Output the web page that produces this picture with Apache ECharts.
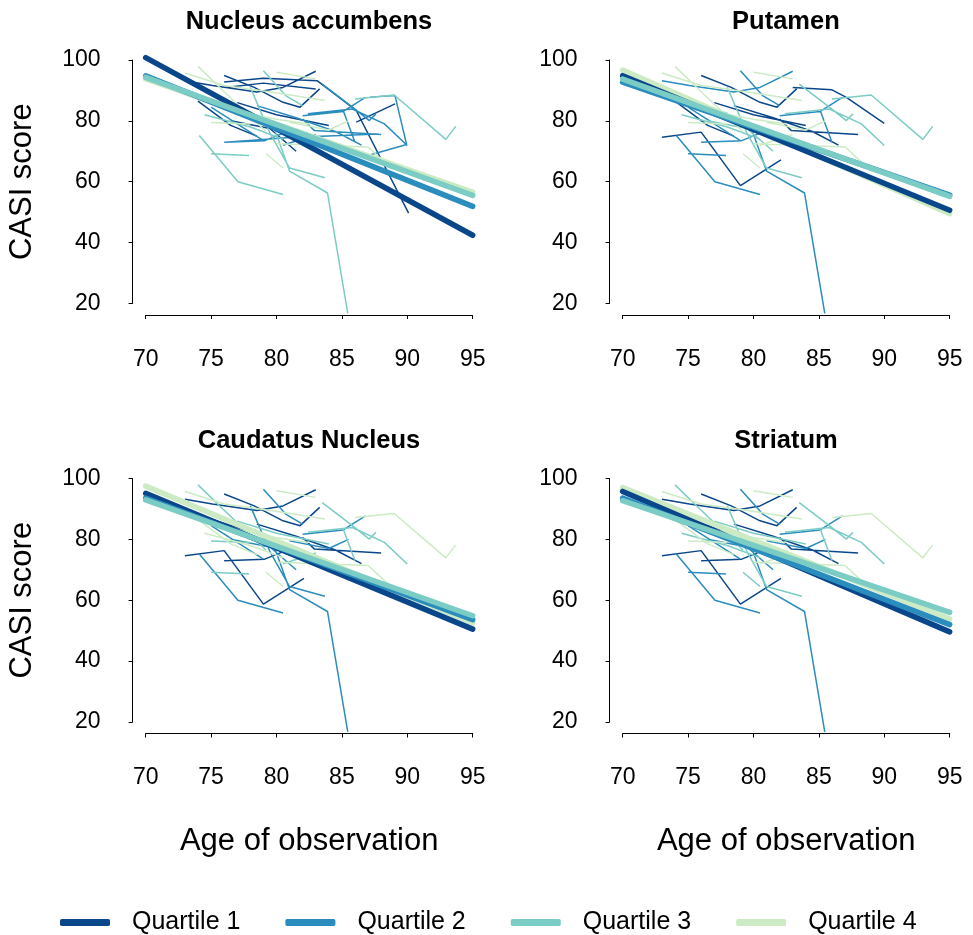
<!DOCTYPE html>
<html>
<head>
<meta charset="utf-8">
<script src="https://cdn.jsdelivr.net/npm/echarts@6/dist/echarts.min.js"></script>
<style>html,body{margin:0;padding:0;background:#fff}#c{width:973px;height:935px}</style>
</head>
<body>
<div id="c"></div>
<script>
// ---------- DATA ----------
const panelTitles = ['Nucleus accumbens', 'Putamen', 'Caudatus Nucleus', 'Striatum'];
const quartileNames = ['Quartile 1', 'Quartile 2', 'Quartile 3', 'Quartile 4'];
const quartileColors = ['#0a468a', '#2b8cbe', '#7bccc4', '#ccebc5'];
const xTicks = [70, 75, 80, 85, 90, 95];
const yTicks = [20, 40, 60, 80, 100];

// individual trajectories: [age, CASI score]
const subj01 = [[74.0, 97.9], [75.9, 90.0], [79.2, 76.5]];
const subj02 = [[73.0, 95.7], [76.0, 91.6], [79.7, 89.4], [83.7, 86.7]];
const subj03 = [[76.0, 94.9], [78.3, 91.0], [80.5, 86.1], [81.8, 84.5], [83.3, 90.5]];
const subj04 = [[79.0, 96.5], [80.7, 88.3], [82.0, 85.0]];
const subj05 = [[73.0, 93.2], [75.1, 91.6], [78.5, 89.5], [80.5, 91.0], [83.0, 96.3]];
const subj06 = [[80.0, 96.0], [83.0, 93.8]];
const subj07 = [[78.0, 91.0], [79.5, 76.0], [81.0, 64.5], [83.7, 61.3]];
const subj08 = [[79.8, 78.0], [81.0, 63.5], [83.9, 56.3], [85.45, 16.7]];
const subj09 = [[73.0, 74.6], [76.0, 76.3], [79.0, 58.7], [82.1, 67.2]];
const subj10 = [[74.1, 75.2], [77.05, 60.0], [80.5, 55.8]];
const subj11 = [[75.0, 69.2], [77.9, 68.6]];
const subj12 = [[86.0, 87.2], [89.0, 88.5], [92.95, 73.9], [93.7, 78.2]];
const subj13 = [[83.0, 91.0], [86.0, 90.2], [87.1, 87.7], [90.0, 79.2]];
const subj14 = [[82.0, 80.6], [82.9, 76.8], [88.0, 75.5]];
const subj15 = [[82.0, 81.7], [85.1, 83.1], [86.8, 87.7]];
const subj16 = [[83.5, 92.1], [85.8, 84.5], [87.1, 80.1], [87.6, 82.3]];
const subj17 = [[82.4, 82.3], [85.8, 83.9], [88.25, 79.0], [90.0, 71.9]];
const subj18 = [[80.0, 72.5], [87.0, 71.4], [88.8, 64.3]];
const subj19 = [[85.1, 83.4], [86.0, 73.0]];
const subj20 = [[76.0, 73.0], [79.1, 73.5], [81.0, 76.8]];
const subj21 = [[75.0, 79.5], [78.0, 79.0]];
const subj22 = [[75.0, 84.5], [79.0, 73.5]];
const subj23 = [[79.2, 69.2], [80.5, 64.5]];
const subj24 = [[72.0, 91.0], [75.5, 86.0], [78.0, 82.5]];
const subj25 = [[73.5, 88.5], [77.0, 83.0], [80.0, 80.5], [82.5, 79.0]];
const subj26 = [[77.0, 86.0], [80.0, 82.0], [84.0, 78.5]];
const subj27 = [[76.5, 80.0], [79.5, 77.5], [81.5, 70.0]];
const subj28 = [[78.5, 85.0], [81.5, 81.0], [84.5, 76.5], [86.5, 72.0]];
const subj29 = [[74.5, 82.0], [78.0, 78.0], [80.5, 74.0]];
const subj30 = [[81.0, 79.5], [84.0, 77.0], [85.5, 80.0]];
const subj31 = [[80.5, 72.0], [83.0, 75.5]];
const subj32 = [[74.0, 86.5], [76.5, 78.5], [78.5, 75.0]];
const subj33 = [[76.0, 92.8], [79.0, 94.0], [83.1, 93.2], [86.1, 83.4], [90.1, 49.7]];
const subj34 = [[87.15, 87.8], [89.06, 88.3], [89.95, 72.2], [87.0, 68.6]];
const subj35 = [[76.1, 73.0], [81.0, 74.5], [87.8, 75.7]];
const subj36 = [[86.1, 79.6], [89.06, 85.6]];
const subj37 = [[76.1, 91.0], [79.0, 92.4], [83.0, 90.5]];

// quartile of each subject in each panel (0 = not drawn in that panel)
const quartNA  = [4,4,1,3,1,4,3,3,0,3,3,3,0,2,2,2,2,4,2,2,4,2,4,3,4,1,1,2,3,4,2,1,1,2,2,1,1];
const quartPut = [4,4,1,2,2,4,3,2,1,2,2,3,1,1,2,3,3,4,2,2,4,2,4,3,4,1,3,1,3,4,4,1,0,0,0,0,0];
const quartCau = [3,4,1,2,1,4,2,2,1,2,3,4,0,1,2,3,3,4,3,1,3,2,4,1,4,3,2,1,4,2,3,4,0,0,0,0,0];
const quartStr = [3,4,1,2,1,4,3,2,1,2,2,4,0,1,2,3,3,4,3,1,4,2,3,1,4,3,2,1,3,2,4,4,0,0,0,0,0];

// fitted regression lines: score at age 70 and at age 95, per quartile
const fitAges = [70, 95];
const fitNA  = [[100.8, 42.4], [94.8, 51.9], [94.3, 55.5], [93.8, 56.6]];
const fitPut = [[94.85, 50.6], [92.7, 55.6], [93.7, 55.2], [96.7, 49.5]];
const fitCau = [[95.1, 50.5], [93.6, 53.6], [93.0, 54.9], [97.5, 52.5]];
const fitStr = [[95.75, 49.6], [93.6, 52.0], [92.7, 56.0], [97.0, 53.8]];

// ---------- BUILD ----------
const subjects = [subj01,subj02,subj03,subj04,subj05,subj06,subj07,subj08,subj09,subj10,
  subj11,subj12,subj13,subj14,subj15,subj16,subj17,subj18,subj19,subj20,subj21,subj22,
  subj23,subj24,subj25,subj26,subj27,subj28,subj29,subj30,subj31,subj32,subj33,subj34,
  subj35,subj36,subj37];
const quarts = [quartNA, quartPut, quartCau, quartStr];
const fits = [fitNA, fitPut, fitCau, fitStr];
const fitDrawOrder = [3, 0, 1, 2];

const FONT = 'Liberation Sans, Arial, Helvetica, sans-serif';
const pxYear = 13.08, pxUnit = 3.043;
const panelPos = [
  {L: 132.6, T: 60},
  {L: 609.6, T: 60},
  {L: 132.6, T: 478.5},
  {L: 609.6, T: 478.5}
];

const grid = [], xAxis = [], yAxis = [], series = [], title = [];

panelPos.forEach((p, pi) => {
  const isLeft = pi % 2 === 0, isBottom = pi >= 2;
  // data grid (x 69..96 like R's extended range)
  const gData = grid.length;
  grid.push({left: p.L, top: p.T - 3.8 * pxUnit, width: 27 * pxYear, height: 87.6 * pxUnit});
  xAxis.push({gridIndex: gData, type: 'value', min: 69, max: 96, show: false});
  yAxis.push({gridIndex: gData, type: 'value', min: 16.2, max: 103.8, show: false});

  // x display axis (70..95)
  const gX = grid.length;
  grid.push({left: p.L + pxYear, top: p.T + 245, width: 25 * pxYear, height: 10});
  xAxis.push({
    gridIndex: gX, type: 'value', min: xTicks[0], max: xTicks[xTicks.length - 1], interval: 5,
    position: 'bottom',
    axisLine: {onZero: false, lineStyle: {color: '#000', width: 1}},
    axisTick: {length: 4, lineStyle: {color: '#000', width: 1}},
    axisLabel: {color: '#000', fontSize: 23, fontFamily: FONT, margin: 33},
    splitLine: {show: false},
    name: isBottom ? 'Age of observation' : '',
    nameLocation: 'middle', nameGap: 92,
    nameTextStyle: {color: '#000', fontSize: 31, fontFamily: FONT}
  });
  yAxis.push({gridIndex: gX, type: 'value', min: 0, max: 1, show: false});

  // y display axis (20..100)
  const gY = grid.length;
  grid.push({left: p.L, top: p.T, width: 10, height: 80 * pxUnit});
  yAxis.push({
    gridIndex: gY, type: 'value', min: yTicks[0], max: yTicks[yTicks.length - 1], interval: 20,
    position: 'left',
    axisLine: {onZero: false, lineStyle: {color: '#000', width: 1}},
    axisTick: {length: 4, lineStyle: {color: '#000', width: 1}},
    axisLabel: {color: '#000', fontSize: 23, fontFamily: FONT, margin: 32},
    splitLine: {show: false},
    name: isLeft ? 'CASI score' : '',
    nameLocation: 'middle', nameGap: 95,
    nameTextStyle: {color: '#000', fontSize: 31, fontFamily: FONT}
  });
  xAxis.push({gridIndex: gY, type: 'value', min: 0, max: 1, show: false});

  // thin trajectories, one series per quartile with breaks
  for (let q = 1; q <= 4; q++) {
    const data = [];
    subjects.forEach((s, i) => {
      if (quarts[pi][i] === q) {
        s.forEach(pt => data.push(pt));
        data.push(['-', '-']);
      }
    });
    series.push({
      type: 'line', name: 'traj' + pi + '_' + q, xAxisIndex: gData, yAxisIndex: gData,
      data: data, showSymbol: false, symbol: 'none', connectNulls: false,
      color: quartileColors[q - 1],
      lineStyle: {color: quartileColors[q - 1], width: 1.5},
      z: 2, silent: true, animation: false
    });
  }
  // thick fitted lines
  fitDrawOrder.forEach((q) => {
    series.push({
      type: 'line', name: quartileNames[q], xAxisIndex: gData, yAxisIndex: gData,
      data: [[fitAges[0], fits[pi][q][0]], [fitAges[1], fits[pi][q][1]]],
      showSymbol: false, symbol: 'none',
      color: quartileColors[q],
      lineStyle: {color: quartileColors[q], width: 5.5, cap: 'round'},
      z: 3, silent: true, animation: false
    });
  });

  title.push({
    text: panelTitles[pi],
    left: p.L + 13.1 * pxYear, top: p.T - 56,
    textAlign: 'center',
    textStyle: {fontSize: 25.5, fontWeight: 'bold', color: '#000', fontFamily: FONT}
  });
});

const chart = echarts.init(document.getElementById('c'), null, {renderer: 'canvas'});
chart.setOption({
  animation: false,
  backgroundColor: '#fff',
  title: title,
  grid: grid,
  xAxis: xAxis,
  yAxis: yAxis,
  legend: {
    data: quartileNames.map((n, i) => ({name: n, itemStyle: {color: quartileColors[i]}})),
    left: 55, top: 905,
    icon: 'roundRect', itemWidth: 50, itemHeight: 7, itemGap: 45,
    textStyle: {fontSize: 25, color: '#000', fontFamily: FONT, padding: [0, 0, 0, 17]},
    selectedMode: false
  },
  series: series
});
</script>
</body>
</html>
